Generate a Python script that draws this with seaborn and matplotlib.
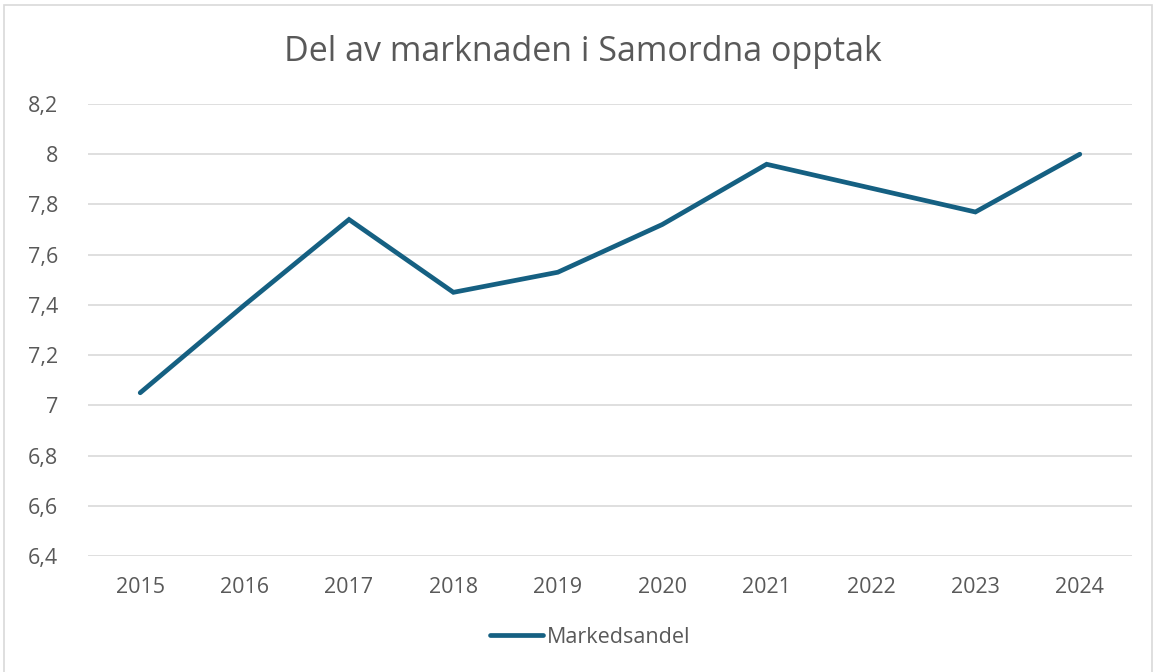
import pandas as pd
import seaborn as sns
import matplotlib.pyplot as plt
from matplotlib.patches import Rectangle

# data
years = [2015, 2016, 2017, 2018, 2019, 2020, 2021, 2022, 2023, 2024]
markedsandel = [7.05, 7.40, 7.74, 7.45, 7.53, 7.72, 7.96, 7.865, 7.77, 8.00]
y_ticks = [6.4, 6.6, 6.8, 7.0, 7.2, 7.4, 7.6, 7.8, 8.0, 8.2]
y_tick_labels = ['6,4', '6,6', '6,8', '7', '7,2', '7,4', '7,6', '7,8', '8', '8,2']

df = pd.DataFrame({'år': years, 'Markedsandel': markedsandel})

sns.set_style('white')
plt.rcParams['font.family'] = ['Open Sans', 'DejaVu Sans']

text_color = '#595959'
grid_color = '#d9d9d9'
line_color = '#156082'

fig = plt.figure(figsize=(11.54, 6.72), dpi=100)
ax = fig.add_axes([88 / 1154, 116 / 672, (1132 - 88) / 1154, (556 - 104) / 672])

sns.lineplot(data=df, x='år', y='Markedsandel', ax=ax, color=line_color,
             linewidth=3.4, label='Markedsandel', solid_capstyle='round',
             solid_joinstyle='miter')

ax.set_xlim(2014.5, 2024.5)
ax.set_ylim(6.4, 8.2)
ax.set_xticks(years)
ax.set_xticklabels([str(y) for y in years])
ax.set_yticks(y_ticks)
ax.set_yticklabels(y_tick_labels)
ax.tick_params(axis='both', length=0, labelsize=15.5, colors=text_color)
ax.tick_params(axis='x', pad=15)
ax.tick_params(axis='y', pad=21.5)
ax.set_xlabel('')
ax.set_ylabel('')

ax.grid(axis='y', color=grid_color, linewidth=1.2)
ax.set_axisbelow(True)
for s in ax.spines.values():
    s.set_visible(False)

leg = ax.legend(loc='center', bbox_to_anchor=(0.481, -0.18), frameon=False,
                fontsize=15.5, handlelength=2.5, handletextpad=0.18)
for t in leg.get_texts():
    t.set_color(text_color)

fig.text(0.5 + 6 / 1154, 1 - 52 / 672, 'Del av marknaden i Samordna opptak', ha='center',
         va='center', fontsize=24.5, color=text_color)

# chart border
fig.patches.append(Rectangle((4 / 1154, -0.01), 1148 / 1154, 1 - 5 / 672 + 0.01,
                             transform=fig.transFigure, fill=False,
                             edgecolor=grid_color, linewidth=1.2))

plt.savefig('out.png', dpi=100)
